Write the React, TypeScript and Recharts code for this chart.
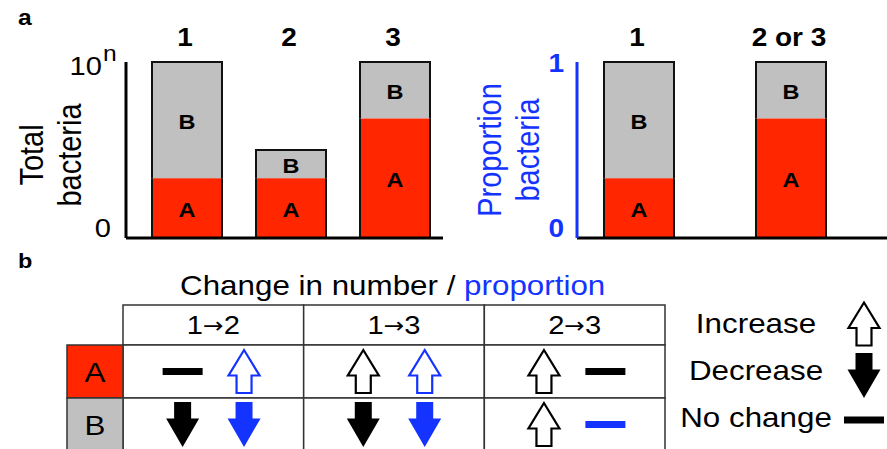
import React from "react";
import {
  BarChart,
  Bar,
  XAxis,
  YAxis,
  LabelList,
  ScatterChart,
  Scatter,
  ReferenceArea,
} from "recharts";

const FONT = '"Liberation Sans", Arial, Helvetica, sans-serif';
const RED = "#ff2600";
const GRAY = "#c0c0c0";
const BLUE = "#1433ff";
const LINE = "#333333";
const SX = 1.12;

// ---- Panel a: total bacteria (fraction of 10^n)
const totalCategories = ["1", "2", "3"];
const totalA = [0.34, 0.34, 0.68];
const totalB = [0.66, 0.16, 0.32];

// ---- Panel a: proportion of bacteria
const propCategories = ["1", "2 or 3"];
const propA = [0.34, 0.68];
const propB = [0.66, 0.32];

// ---- Panel b: change table
const transitionsFrom = ["1", "1", "2"];
const transitionsTo = ["2", "3", "3"];
const species = ["A", "B"];
const speciesColors = [RED, GRAY];
const numberChangeA = ["none", "up", "up"];
const numberChangeB = ["down", "down", "up"];
const proportionChangeA = ["up", "up", "none"];
const proportionChangeB = ["down", "down", "none"];
const proportionColorA = [BLUE, BLUE, "#000"];
const proportionColorB = [BLUE, BLUE, BLUE];
const legendLabels = ["Increase", "Decrease", "No change"];
const legendSymbols = ["up", "down", "none"];

const totalData = totalCategories.map((name, i) => ({ name, A: totalA[i], B: totalB[i] }));
const propData = propCategories.map((name, i) => ({ name, A: propA[i], B: propB[i] }));

const numberPoints = transitionsFrom.flatMap((t, i) =>
  species.map((s, r) => ({
    x: i + 0.33,
    y: r + 0.5,
    sym: (r === 0 ? numberChangeA : numberChangeB)[i],
    color: "#000",
  }))
);
const proportionPoints = transitionsFrom.flatMap((t, i) =>
  species.map((s, r) => ({
    x: i + 0.67,
    y: r + 0.5,
    sym: (r === 0 ? proportionChangeA : proportionChangeB)[i],
    color: (r === 0 ? proportionColorA : proportionColorB)[i],
  }))
);

function T(props: any) {
  const { x, y, size, weight, fill, anchor, rotate, children } = props;
  const tr = rotate
    ? `translate(${x},${y}) scale(${SX},1) rotate(-90)`
    : `translate(${x},${y}) scale(${SX},1)`;
  return (
    <text
      transform={tr}
      fontSize={size}
      fontWeight={weight || "normal"}
      fill={fill || "#000"}
      textAnchor={anchor || "start"}
      fontFamily={FONT}
      dominantBaseline={rotate ? "central" : undefined}
    >
      {children}
    </text>
  );
}

function Sym({ cx, cy, sym, color }: any) {
  if (sym === "up") {
    const w = 15.5, hw = 7.5, top = cy - 21.5, sh = cy + 4, bot = cy + 21.5;
    return (
      <path
        d={`M${cx},${top} L${cx + w},${sh} L${cx + hw},${sh} L${cx + hw},${bot} L${cx - hw},${bot} L${cx - hw},${sh} L${cx - w},${sh} Z`}
        fill="#fff"
        stroke={color}
        strokeWidth={2.2}
      />
    );
  }
  if (sym === "down") {
    const w = 16.5, hw = 8.5, top = cy - 22.5, sh = cy - 6, bot = cy + 22.5;
    return (
      <path
        d={`M${cx - hw},${top} L${cx + hw},${top} L${cx + hw},${sh} L${cx + w},${sh} L${cx},${bot} L${cx - w},${sh} L${cx - hw},${sh} Z`}
        fill={color}
      />
    );
  }
  return <rect x={cx - 20} y={cy - 3.5} width={40} height={7} fill={color} />;
}

function Segment(props: any) {
  const { x, y, width, height, fill, isTop } = props;
  if (!height || height <= 0) return null;
  const d = isTop
    ? `M${x},${y + height} L${x},${y} L${x + width},${y} L${x + width},${y + height}`
    : `M${x},${y} L${x},${y + height} L${x + width},${y + height} L${x + width},${y}`;
  return (
    <g>
      <rect x={x} y={y} width={width} height={height} fill={fill} />
      <path d={d} fill="none" stroke="#111" strokeWidth={2} />
    </g>
  );
}

const segLabel = (letter: string) => (p: any) => {
  const { x, y, width, height } = p;
  return (
    <T x={x + width / 2} y={y + height / 2 + 9} size={21} weight="bold" anchor="middle">
      {letter}
    </T>
  );
};

const topLabel = (p: any) => {
  const { x, width, value } = p;
  return (
    <T x={x + width / 2 - 2} y={46} size={25} weight="bold" anchor="middle">
      {value}
    </T>
  );
};

const TotalTick = (p: any) => {
  const { y, payload } = p;
  if (payload.value === 0) {
    return (
      <T x={111} y={y - 1} size={26} anchor="end">
        0
      </T>
    );
  }
  return (
    <g>
      <T x={102} y={y + 13} size={26} anchor="end">
        10
      </T>
      <T x={103} y={y - 1} size={22} anchor="start">
        n
      </T>
    </g>
  );
};

const PropTick = (p: any) => {
  const { y, payload } = p;
  return (
    <T x={564} y={payload.value === 0 ? y - 1 : y + 10} size={25} weight="bold" anchor="end" fill={BLUE}>
      {payload.value === 0 ? "0" : "1"}
    </T>
  );
};

const HeaderLabel = (from: string, to: string) => (p: any) => {
  const vb = p.viewBox;
  return (
    <text
      transform={`translate(${vb.x + vb.width / 2},${vb.y + vb.height / 2 + 9}) scale(${SX},1)`}
      fontSize={26}
      fontFamily={FONT}
      textAnchor="middle"
      fill="#000"
    >
      {from}
      <tspan fontFamily='"DejaVu Sans", sans-serif' fontSize={22} dy={-1}>→</tspan>
      <tspan dy={1}>{to}</tspan>
    </text>
  );
};

const RowLabel = (text: string) => (p: any) => {
  const vb = p.viewBox;
  return (
    <T x={vb.x + vb.width / 2} y={vb.y + vb.height / 2 + 10} size={28} anchor="middle">
      {text}
    </T>
  );
};

const HEADER_TOP = -0.755;
const ROWHEAD_LEFT = -0.31;

export default function App() {
  const abs: React.CSSProperties = { position: "absolute", left: 0, top: 0 };
  return (
    <div
      style={{
        position: "absolute",
        left: 0,
        top: 0,
        width: 887,
        height: 449,
        overflow: "hidden",
        background: "#fff",
      }}
    >
      <div style={abs}>
        <BarChart width={887} height={250} data={totalData} margin={{ top: 62, right: 444, bottom: 11, left: 66 }}>
          <XAxis
            dataKey="name"
            height={1}
            tick={false}
            tickLine={false}
            axisLine={{ stroke: "#000", strokeWidth: 3 }}
            padding={{ left: 9, right: -4 }}
          />
          <YAxis
            type="number"
            domain={[0, 1]}
            ticks={[0, 1]}
            width={60}
            tick={<TotalTick />}
            tickLine={false}
            axisLine={{ stroke: "#000", strokeWidth: 3 }}
          />
          <Bar dataKey="A" stackId="s" fill={RED} barSize={70} isAnimationActive={false} shape={(p: any) => <Segment {...p} isTop={false} />}>
            <LabelList dataKey="A" content={segLabel("A")} />
          </Bar>
          <Bar dataKey="B" stackId="s" fill={GRAY} barSize={70} isAnimationActive={false} shape={(p: any) => <Segment {...p} isTop={true} />}>
            <LabelList dataKey="B" content={segLabel("B")} />
            <LabelList dataKey="name" content={topLabel} />
          </Bar>
        </BarChart>
      </div>
      <div style={abs}>
        <BarChart width={887} height={250} data={propData} margin={{ top: 62, right: 0, bottom: 11, left: 517 }}>
          <XAxis
            dataKey="name"
            height={1}
            tick={false}
            tickLine={false}
            axisLine={{ stroke: "#000", strokeWidth: 3 }}
            padding={{ left: -14, right: 20 }}
          />
          <YAxis
            type="number"
            domain={[0, 1]}
            ticks={[0, 1]}
            width={60}
            tick={<PropTick />}
            tickLine={false}
            axisLine={{ stroke: BLUE, strokeWidth: 3 }}
          />
          <Bar dataKey="A" stackId="s" fill={RED} barSize={70} isAnimationActive={false} shape={(p: any) => <Segment {...p} isTop={false} />}>
            <LabelList dataKey="A" content={segLabel("A")} />
          </Bar>
          <Bar dataKey="B" stackId="s" fill={GRAY} barSize={70} isAnimationActive={false} shape={(p: any) => <Segment {...p} isTop={true} />}>
            <LabelList dataKey="B" content={segLabel("B")} />
            <LabelList dataKey="name" content={topLabel} />
          </Bar>
        </BarChart>
      </div>
      <div style={abs}>
        <ScatterChart width={887} height={460} margin={{ top: 345, right: 222, bottom: 9, left: 123 }}>
          <XAxis type="number" dataKey="x" domain={[0, 3]} hide />
          <YAxis type="number" dataKey="y" domain={[0, 2]} reversed hide />
          {transitionsFrom.map((t, i) => (
            <ReferenceArea
              key={"h" + i}
              x1={i}
              x2={i + 1}
              y1={HEADER_TOP}
              y2={0}
              ifOverflow="visible"
              fill="#fff"
              fillOpacity={1}
              stroke={LINE}
              strokeWidth={1.5}
              label={HeaderLabel(transitionsFrom[i], transitionsTo[i])}
            />
          ))}
          {transitionsFrom.map((t, i) =>
            species.map((s, r) => (
              <ReferenceArea
                key={"c" + i + r}
                x1={i}
                x2={i + 1}
                y1={r}
                y2={r + 1}
                ifOverflow="visible"
                fill="#fff"
                fillOpacity={1}
                stroke={LINE}
                strokeWidth={1.5}
              />
            ))
          )}
          {species.map((s, r) => (
            <ReferenceArea
              key={"r" + r}
              x1={ROWHEAD_LEFT}
              x2={0}
              y1={r}
              y2={r + 1}
              ifOverflow="visible"
              fill={speciesColors[r]}
              fillOpacity={1}
              stroke={LINE}
              strokeWidth={1.5}
              label={RowLabel(s)}
            />
          ))}
          <Scatter
            data={numberPoints}
            isAnimationActive={false}
            shape={(p: any) => <Sym cx={p.cx} cy={p.cy} sym={p.payload.sym} color={p.payload.color} />}
          />
          <Scatter
            data={proportionPoints}
            isAnimationActive={false}
            shape={(p: any) => <Sym cx={p.cx} cy={p.cy} sym={p.payload.sym} color={p.payload.color} />}
          />
        </ScatterChart>
      </div>
      <svg width={887} height={449} style={{ ...abs, pointerEvents: "none" }}>
        <T x={18} y={25} size={22} weight="bold">a</T>
        <T x={18} y={268} size={21} weight="bold">b</T>
        <T x={32} y={155} size={29} rotate anchor="middle">Total</T>
        <T x={70} y={155} size={29} rotate anchor="middle">bacteria</T>
        <T x={490} y={150} size={29} rotate anchor="middle" fill={BLUE}>Proportion</T>
        <T x={528} y={150} size={29} rotate anchor="middle" fill={BLUE}>bacteria</T>
        <text transform={`translate(180,295) scale(${SX},1)`} fontSize={28} fontFamily={FONT} fill="#000">
          Change in number / <tspan fill={BLUE}>proportion</tspan>
        </text>
        {legendLabels.map((l, i) => (
          <g key={l}>
            <T x={756} y={333 + i * 47} size={28} anchor="middle">{l}</T>
            <Sym cx={864} cy={[324, 375.5, 420][i]} sym={legendSymbols[i]} color="#000" />
          </g>
        ))}
      </svg>
    </div>
  );
}
